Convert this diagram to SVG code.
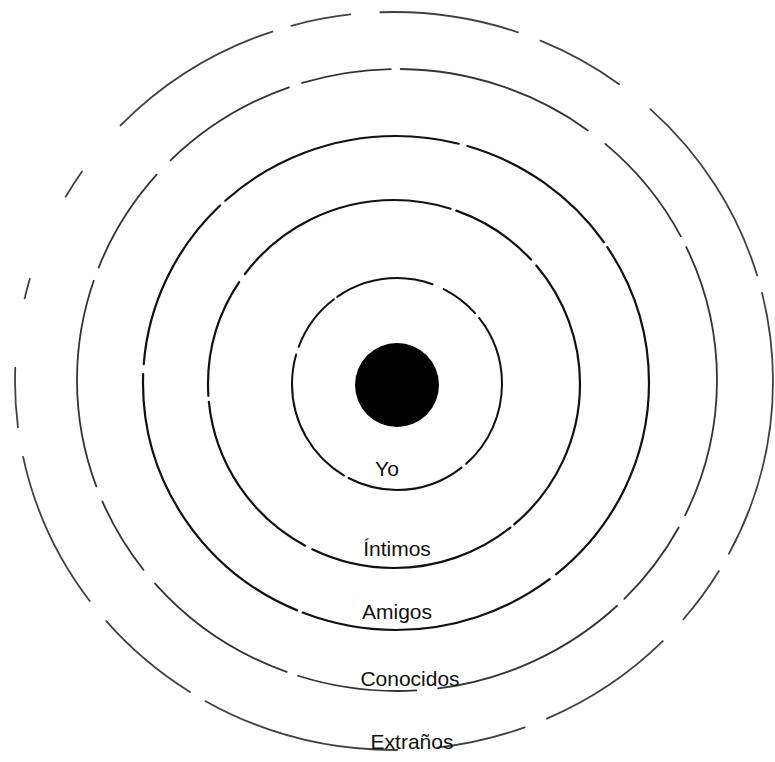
<svg xmlns="http://www.w3.org/2000/svg" width="775" height="762" viewBox="0 0 775 762">
<style>
.ring{fill:none;stroke:#111;stroke-linecap:round}
.lbl{font-family:"Liberation Sans","DejaVu Sans",sans-serif;font-size:21px;fill:#111;text-anchor:middle}
</style>
<rect width="775" height="762" fill="#fff"/>
<g id="rings">
<g id="ring-yo"><ellipse class="ring" cx="397" cy="384" rx="105" ry="106" stroke-width="2" stroke-dasharray="90 6 120 5 140 8 60 4 100 12 40 6"/></g>
<g id="ring-intimos"><ellipse class="ring" cx="394" cy="384" rx="186" ry="184" stroke-width="2.2" stroke-dasharray="160 5 210 8 180 6 120 10 230 6 90 8"/></g>
<g id="ring-amigos"><ellipse class="ring" cx="396" cy="383" rx="253" ry="247" stroke-width="2.2" stroke-dasharray="220 8 260 6 300 10 180 7 250 9 170 6"/></g>
<g id="ring-conocidos"><ellipse class="ring" cx="397" cy="380" rx="320" ry="311" stroke-width="1.8" stroke-opacity="0.85" stroke-dasharray="140 14 90 10 200 22 120 12 160 18 80 16 210 14 110 20"/></g>
<g id="ring-extranos"><ellipse class="ring" cx="394" cy="381" rx="379" ry="369" stroke-width="1.8" stroke-opacity="0.8" stroke-dasharray="180 20 60 30 140 24 90 40 200 18 110 26 160 30 60 70 20 90 30 60"/></g>
</g>
<g id="node-yo">
<circle cx="397" cy="385" r="42" fill="#000"/>
<text class="lbl" x="387" y="476">Yo</text>
</g>
<g id="node-intimos"><text class="lbl" x="397" y="556">Íntimos</text></g>
<g id="node-amigos"><text class="lbl" x="397" y="619">Amigos</text></g>
<g id="node-conocidos"><text class="lbl" x="410" y="686">Conocidos</text></g>
<g id="node-extranos"><text class="lbl" x="412" y="749">Extraños</text></g>
</svg>
